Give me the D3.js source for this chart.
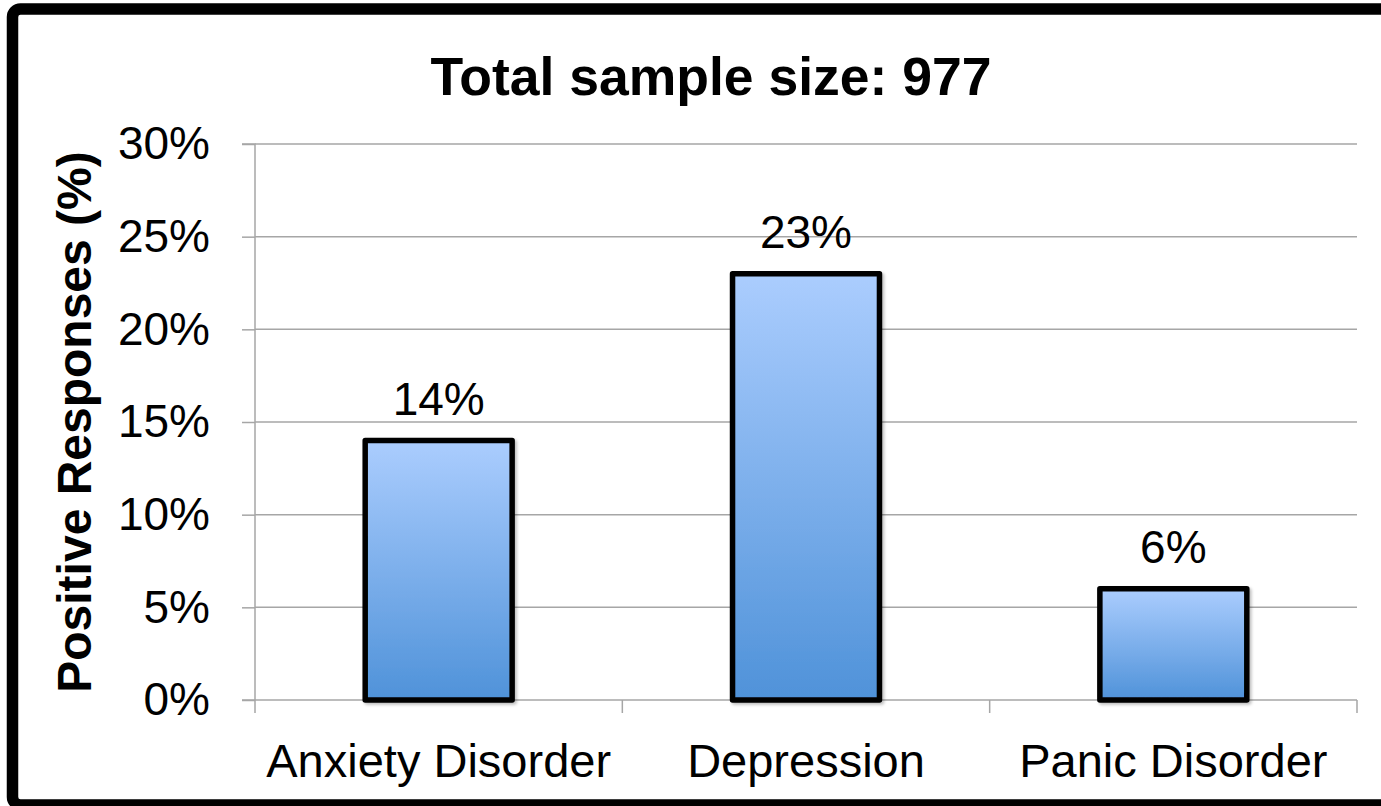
<!DOCTYPE html>
<html>
<head>
<meta charset="utf-8">
<script src="https://cdn.jsdelivr.net/npm/d3@7/dist/d3.min.js"></script>
<style>
  html, body { margin: 0; padding: 0; background: #fff; }
  svg { display: block; }
  text { font-family: "Liberation Sans", Arial, sans-serif; fill: #000; }
</style>
</head>
<body>
<script>
const categories = ["Anxiety Disorder", "Depression", "Panic Disorder"];
const values = [14, 23, 6];
const valueLabels = ["14%", "23%", "6%"];
const yTicks = [0, 5, 10, 15, 20, 25, 30];
const title = "Total sample size: 977";
const yTitle = "Positive Responses (%)";

const W = 1381, H = 806;
const plot = { left: 255, right: 1357, top: 144, bottom: 700 };

const svg = d3.select("body").append("svg").attr("width", W).attr("height", H);
const defs = svg.append("defs");
const grad = defs.append("linearGradient").attr("id", "barGrad")
  .attr("x1", 0).attr("y1", 0).attr("x2", 0).attr("y2", 1);
grad.append("stop").attr("offset", "0%").attr("stop-color", "#abcdfe");
grad.append("stop").attr("offset", "100%").attr("stop-color", "#4f92d9");
const filt = defs.append("filter").attr("id", "shadow")
  .attr("x", "-10%").attr("y", "-10%").attr("width", "130%").attr("height", "130%");
filt.append("feDropShadow").attr("dx", 2).attr("dy", 2).attr("stdDeviation", 1.5)
  .attr("flood-color", "#000").attr("flood-opacity", 0.25);

// frame
svg.append("rect").attr("x", 12.5).attr("y", 9).attr("width", 1385).attr("height", 796)
  .attr("rx", 8).attr("fill", "#fff").attr("stroke", "#000").attr("stroke-width", 11.5);

const x = d3.scaleBand().domain(categories).range([plot.left, plot.right]).padding(0);
const y = d3.scaleLinear().domain([0, 30]).range([plot.bottom, plot.top]);

// gridlines
svg.append("g").selectAll("line").data(yTicks.filter(d => d > 0)).join("line")
  .attr("x1", plot.left).attr("x2", plot.right)
  .attr("y1", d => y(d)).attr("y2", d => y(d))
  .attr("stroke", "#a6a6a6").attr("stroke-width", 1.5);

// y axis
const yAxis = d3.axisLeft(y).tickValues(yTicks).tickSize(13).tickPadding(32)
  .tickFormat(d => d + "%");
const gy = svg.append("g").attr("transform", `translate(${plot.left},0)`).call(yAxis);
gy.select(".domain").attr("stroke", "#a6a6a6").attr("stroke-width", 1.5)
  .attr("d", `M-13,${plot.top}H0V${plot.bottom + 13}`);
gy.selectAll(".tick line").attr("stroke", "#a6a6a6").attr("stroke-width", 1.5);
gy.selectAll(".tick text").style("font-size", "46px")
  .style("font-family", '"Liberation Sans", Arial, sans-serif').attr("fill", "#000");

// x axis
const xAxis = d3.axisBottom(x).tickSize(0).tickPadding(0);
const gx = svg.append("g").attr("transform", `translate(0,${plot.bottom})`).call(xAxis);
gx.select(".domain").attr("stroke", "#a6a6a6").attr("stroke-width", 1.5)
  .attr("d", `M${plot.left - 13},0H${plot.right}`);
gx.selectAll(".tick text").style("font-size", "47px")
  .style("font-family", '"Liberation Sans", Arial, sans-serif').attr("fill", "#000")
  .attr("y", 77).attr("dy", 0);
// category boundary ticks
const bounds = categories.map(c => x(c) + x.bandwidth());
gx.append("g").selectAll("line").data(bounds).join("line")
  .attr("x1", d => d).attr("x2", d => d).attr("y1", 0).attr("y2", 13)
  .attr("stroke", "#a6a6a6").attr("stroke-width", 1.5);

// bars
const barW = x.bandwidth() * 0.4;
svg.append("g").selectAll("rect").data(values).join("rect")
  .attr("x", (d, i) => x(categories[i]) + (x.bandwidth() - barW) / 2)
  .attr("y", d => y(d))
  .attr("width", barW)
  .attr("height", d => y(0) - y(d))
  .attr("fill", "url(#barGrad)")
  .attr("stroke", "#000").attr("stroke-width", 5.5).attr("stroke-linejoin", "round")
  .attr("filter", "url(#shadow)");

// value labels
svg.append("g").selectAll("text").data(values).join("text")
  .attr("x", (d, i) => x(categories[i]) + x.bandwidth() / 2)
  .attr("y", d => y(d) - 26)
  .attr("text-anchor", "middle").style("font-size", "46px")
  .text((d, i) => valueLabels[i]);

// title
svg.append("text").attr("x", 711).attr("y", 95).attr("text-anchor", "middle")
  .style("font-size", "53.5px").style("font-weight", "bold").text(title);

// y title
svg.append("text").attr("transform", `translate(91,${(plot.top + plot.bottom) / 2}) rotate(-90)`)
  .attr("text-anchor", "middle").style("font-size", "48px").style("font-weight", "bold")
  .text(yTitle);
</script>
</body>
</html>
